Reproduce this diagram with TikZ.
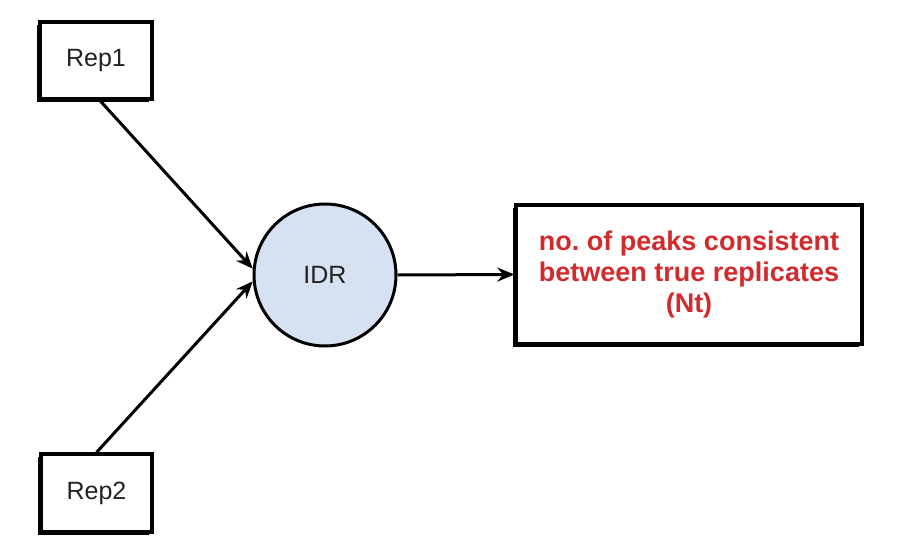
\documentclass[tikz,border=0pt]{standalone}
\usepackage{fontspec}
\setmainfont{Liberation Sans}
\usetikzlibrary{arrows.meta,shadows}
\definecolor{idrblue}{HTML}{D6E1F2}
\definecolor{redtxt}{HTML}{D12B2E}
\definecolor{txtgray}{HTML}{222222}
\frenchspacing
\begin{document}
\begin{tikzpicture}[x=1pt,y=-1pt,
  boxshadow/.style={drop shadow={shadow xshift=-3pt,shadow yshift=-3pt,fill=black,opacity=1}},
  repbox/.style={draw=black,line width=3.2pt,fill=white,rectangle,boxshadow,
     font=\fontsize{25}{28}\selectfont,text=txtgray,inner sep=0pt},
  conn/.style={line width=3pt,-{Stealth[length=17pt,width=14pt]}}]
\useasboundingbox (0,0) rectangle (908,553);
\fill[white] (0,0) rectangle (908,553);
\node[repbox,minimum width=112pt,minimum height=77pt] (rep1) at (96,60.5) {Rep1};
\node[repbox,minimum width=111pt,minimum height=78pt] (rep2) at (96.5,493) {Rep2};
\node[circle,draw=black,line width=3pt,fill=idrblue,minimum size=142pt,inner sep=0pt,
      font=\fontsize{25}{28}\selectfont,text=txtgray] (idr) at (325,275) {IDR};
\node[repbox,minimum width=346pt,minimum height=139pt,text=redtxt,align=center,
      font=\fontsize{27}{31}\selectfont\bfseries] (out) at (689,274.5)
      {no. of peaks consistent\\between true replicates\\(Nt)};
\draw[conn] ([xshift=4pt]rep1.south) -- (idr.175);
\draw[conn] (rep2.north) -- (idr.185);
\draw[conn] (idr.east) -- (out.west);
\end{tikzpicture}
\end{document}
